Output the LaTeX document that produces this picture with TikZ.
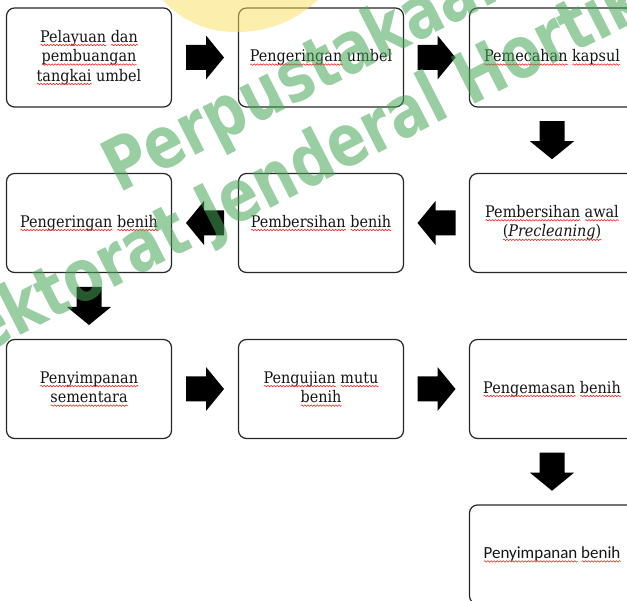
\documentclass[tikz,border=0pt]{standalone}
\usepackage{fontspec}
\setmainfont{DejaVu Serif}[FakeStretch=0.9]
\newfontfamily\calib{Carlito}
\newfontfamily\wmfont{DejaVu Sans}[FakeStretch=0.8]
\usetikzlibrary{calc,decorations.pathmorphing}
\definecolor{wmgreen}{RGB}{70,165,85}
\definecolor{wmyellow}{RGB}{250,222,90}
\newsavebox\sqbox
\newlength\sqlen
\newcommand\sq[1]{\sbox\sqbox{#1}\setlength\sqlen{\wd\sqbox}\usebox\sqbox\hspace{-\sqlen}\makebox[\sqlen][l]{\raisebox{-3pt}{\tikz[baseline=0pt]\draw[sqline](0pt,0pt)--(\sqlen,0pt);}}}
\tikzset{
  sqline/.style={draw=red!90, line width=0.55pt, sharp corners, decorate,
    decoration={snake, amplitude=0.75pt, segment length=3.1pt}},
  box/.style={draw=black!85, line width=1.2pt, rounded corners=8pt,
    minimum width=165pt, minimum height=99pt, align=center,
    font=\fontsize{16}{19.5}\selectfont, text=black!92, inner sep=2pt},
  sansbox/.style={box, font=\calib\fontsize{17}{20}\selectfont},
  wm/.style={text=wmgreen, text opacity=0.55, inner sep=0pt,
    font=\wmfont\bfseries\fontsize{72}{72}\selectfont},
  barrow/.pic={\fill[black] (-19,-12.5) -- (1,-12.5) -- (1,-22) -- (19,0)
     -- (1,22) -- (1,12.5) -- (-19,12.5) -- cycle;}
}
\begin{document}
\begin{tikzpicture}[x=1pt,y=-1pt]
\useasboundingbox (0,0) rectangle (627,601);
\clip (0,0) rectangle (627,601);
% boxes
\node[box] (n1) at (89,57.5) {\sq{Pelayuan} \sq{dan}\\\sq{pembuangan}\\\sq{tangkai} umbel};
\node[box] (n2) at (321,57.5) {\sq{Pengeringan} umbel};
\node[box] (n3) at (552,57.5) {\sq{Pemecahan} \sq{kapsul}};
\node[box] (n4) at (552,223) {\sq{Pembersihan} \sq{awal}\\\sq{(\textit{Precleaning})}};
\node[box] (n5) at (321,223) {\sq{Pembersihan} \sq{benih}};
\node[box] (n6) at (89,223) {\sq{Pengeringan} \sq{benih}};
\node[box] (n7) at (89,389) {\sq{Penyimpanan}\\\sq{sementara}};
\node[box] (n8) at (321,389) {\sq{Pengujian} \sq{mutu}\\\sq{benih}};
\node[box] (n9) at (552,389) {\sq{Pengemasan} \sq{benih}};
\node[sansbox] (n10) at (552,554.5) {\sq{Penyimpanan} \sq{benih}};
% block arrows
\pic at ($(n1.east)!0.5!(n2.west)$) {barrow};
\pic at ($(n2.east)!0.5!(n3.west)$) {barrow};
\pic[rotate=-90] at ($(n3.south)!0.5!(n4.north)$) {barrow};
\pic[rotate=180] at ($(n4.west)!0.5!(n5.east)$) {barrow};
\pic[rotate=180] at ($(n5.west)!0.5!(n6.east)$) {barrow};
\pic[rotate=-90] at ($(n6.south)!0.5!(n7.north)$) {barrow};
\pic at ($(n7.east)!0.5!(n8.west)$) {barrow};
\pic at ($(n8.east)!0.5!(n9.west)$) {barrow};
\pic[rotate=-90] at ($(n9.south)!0.5!(n10.north)$) {barrow};
% watermark
\fill[wmyellow, opacity=0.5] (163,0) .. controls (182,22) and (210,33) .. (240,32)
   .. controls (272,31) and (296,20) .. (318,0) -- cycle;
\node[wm, rotate=27, anchor=base west] (wm1) at (119,194) {Perpustakaan};
\node[wm, rotate=27, anchor=base west] (wm2) at (-104,399) {Direktorat Jenderal Hortikultura};
\end{tikzpicture}
\end{document}
